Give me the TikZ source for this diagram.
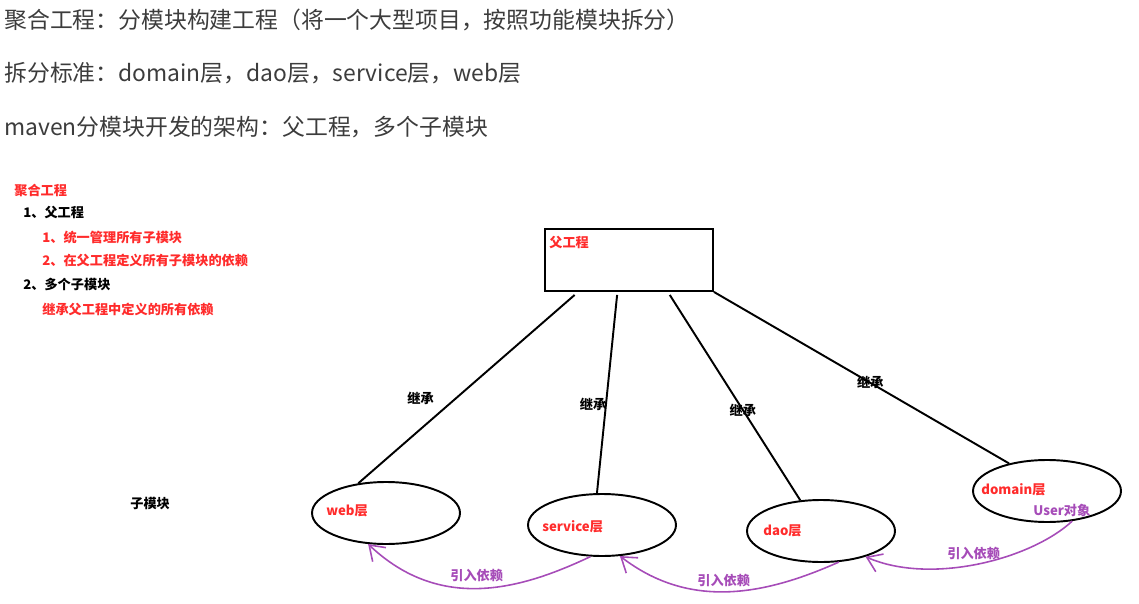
\documentclass[tikz,border=0pt]{standalone}
\usepackage{fontspec}
\setmainfont{Noto Sans CJK SC}
\usetikzlibrary{arrows.meta,calc,shapes.geometric}
\definecolor{notered}{HTML}{FF2B2B}
\definecolor{depviolet}{HTML}{A64CB8}
\definecolor{headgray}{HTML}{3C3C3C}

\begin{document}
\begin{tikzpicture}[x=0.02cm,y=-0.02cm,
  head/.style={anchor=west,inner sep=0pt,text=headgray,font=\fontsize{13}{15}\selectfont},
  note/.style={anchor=west,inner sep=0pt,font=\bfseries\fontsize{7.5}{9}\selectfont},
  layer/.style={ellipse,draw,line width=1.1pt,inner sep=0pt,minimum width=2.96cm,minimum height=1.24cm},
  inherit/.style={line width=1.1pt},
  dep/.style={depviolet,line width=0.9pt,-{Straight Barb[length=8pt,width=11pt]}}]
\useasboundingbox (0,0) rectangle (1139,604);
% heading
\node[head] (h1) at (4,20) {聚合工程：分模块构建工程（将一个大型项目，按照功能模块拆分）};
\node[head] (h2) at (4,73) {拆分标准：domain层，dao层，service层，web层};
\node[head] (h3) at (4,127) {maven分模块开发的架构：父工程，多个子模块};
% notes on the left
\node[note,notered] (n0) at (14,190) {聚合工程};
\node[note] (n1) at (23,213) {1、父工程};
\node[note,notered] (n11) at (42,237) {1、统一管理所有子模块};
\node[note,notered] (n12) at (42,260) {2、在父工程定义所有子模块的依赖};
\node[note] (n2) at (23,284) {2、多个子模块};
\node[note,notered] (n21) at (42,309) {继承父工程中定义的所有依赖};
\node[note] (sub) at (130,504) {子模块};
% parent
\node[draw,line width=1.1pt,inner sep=0pt,minimum width=3.36cm,minimum height=1.24cm] (parent) at (629,260) {};
\node[note,notered] (parentlbl) at (549,243) {父工程};
% modules
\node[layer] (web) at (386,513) {};
\node[layer] (service) at (602,525) {};
\node[layer] (dao) at (821,531) {};
\node[layer] (domain) at (1047,491) {};
\node[note,notered] (weblbl) at (326,511) {web层};
\node[note,notered] (servicelbl) at (542,527) {service层};
\node[note,notered] (daolbl) at (763,531) {dao层};
\node[note,notered] (domainlbl) at (981,490) {domain层};
\node[note,depviolet] (userlbl) at (1033,510) {User对象};
% inheritance
\draw[inherit] ($(parent.south west)!0.18!(parent.south east)+(0,3)$) -- (web.133)
  node[note,anchor=center,pos=0.55,xshift=-0.7cm] (i1) {继承};
\draw[inherit] ($(parent.south west)!0.43!(parent.south east)+(0,3)$) -- (service.99)
  node[note,anchor=center,pos=0.55,xshift=-0.26cm] (i2) {继承};
\draw[inherit] ($(parent.south west)!0.74!(parent.south east)+(0,3)$) -- (dao.124)
  node[note,anchor=center,pos=0.56] (i3) {继承};
\draw[inherit] (parent.south east) -- (domain.144)
  node[note,anchor=center,pos=0.53] (i4) {继承};
% dependencies
\draw[dep] (service.250) .. controls (520,590) and (440,612) .. (web.240);
\draw[dep] (dao.300) .. controls (765,595) and (690,610) .. (service.300);
\draw[dep] (domain.310) .. controls (1030,560) and (930,585) .. (dao.330);
\node[note,depviolet] (d1) at (450,575) {引入依赖};
\node[note,depviolet] (d2) at (697,580) {引入依赖};
\node[note,depviolet] (d3) at (947,553) {引入依赖};
\end{tikzpicture}
\end{document}
